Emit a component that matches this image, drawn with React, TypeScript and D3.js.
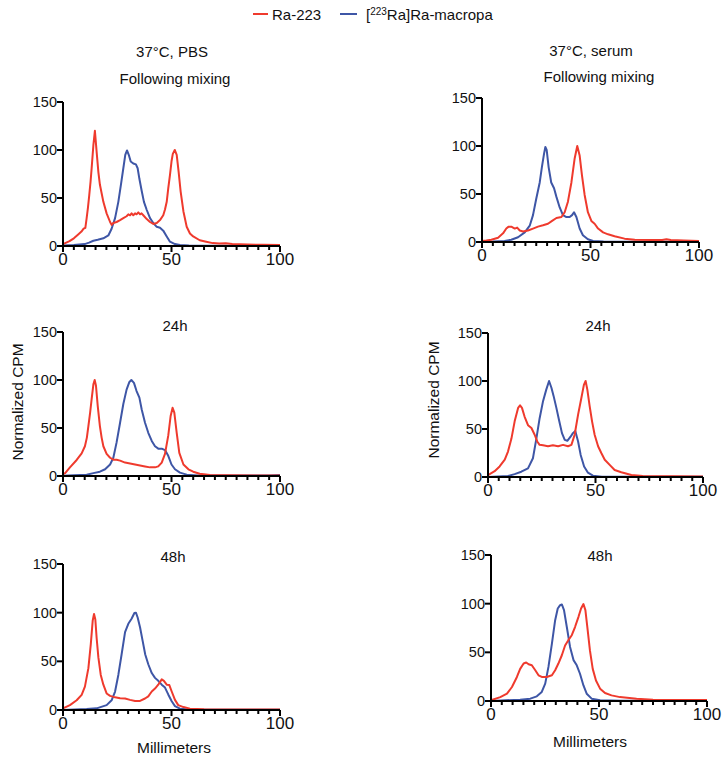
import React from "react";
import * as d3 from "d3";

// Radio-TLC traces: [distance (mm), normalized CPM]
const pbsMixRa: [number, number][] = [
  [0, 2], [1, 3], [3, 5], [5, 8], [7, 12], [8.5, 15], [9.5, 18], [10.3, 19], [10.9, 29], [11.5, 40],
  [12.1, 53], [12.7, 67], [13.2, 81], [14, 105], [14.7, 120], [15.5, 98], [16.3, 77], [17, 64], [17.8, 55],
  [18.6, 46], [20.1, 34], [21.7, 25], [22.4, 22], [23.2, 24], [24.7, 25], [26.3, 27], [27.8, 29], [29.3, 31],
  [30.1, 33], [30.9, 32], [31.6, 34], [32.4, 32], [33.2, 34], [33.9, 33], [34.7, 35], [35.5, 33], [36.2, 34],
  [37, 32], [38.6, 28], [40.1, 25], [41.6, 23], [43.2, 24], [44.7, 27], [46.2, 32], [47, 38], [47.8, 46],
  [48.5, 60], [49.3, 74], [50, 88], [50.6, 96], [51.5, 100], [52.4, 95], [53.3, 77], [54.2, 57], [55.5, 36],
  [57, 20], [58.5, 13], [60, 10], [63, 6], [66, 4.5], [69, 3], [72, 2.5], [75, 2.8], [78, 2], [85, 1.5],
  [92, 1.2], [100, 1],
];
const pbsMixMacropa: [number, number][] = [
  [0, 0.5], [5, 1], [10, 2], [12, 3.5], [14, 5.5], [16, 6.5], [18.6, 8], [20.9, 11], [22.4, 18], [24, 29],
  [25.5, 46], [26.7, 64], [27.8, 81], [28.7, 95], [29.5, 99.5], [30.3, 95], [31.2, 88], [32.4, 86], [33.6, 85],
  [34.4, 81], [35.2, 70], [36.3, 57], [37.3, 46], [38.6, 37.5], [40.1, 29], [41.6, 24], [43.2, 20], [44.7, 19],
  [46.2, 16], [47.8, 10], [49.3, 4.5], [51.6, 2], [53.9, 1], [58, 0.5], [100, 0.3],
];
const serumMixRa: [number, number][] = [
  [0, 1], [2, 1.5], [4.3, 2.4], [7.4, 4.5], [9.7, 9], [11.2, 14], [12.3, 16], [13.5, 16], [15.1, 14],
  [16.2, 15], [17.4, 12], [18.9, 11], [21.2, 12], [23.5, 14], [25.8, 16], [28.1, 17.4], [30.4, 19], [32.3, 22],
  [34.3, 25], [36.6, 26], [38.1, 31], [39.6, 42], [41.2, 62], [42.7, 87], [43.9, 100], [45, 90], [46.1, 69],
  [47.3, 49], [48.8, 31], [50.4, 22], [51.9, 19], [53.5, 14], [55.8, 10], [58.1, 8], [61.1, 6], [65.7, 3.5],
  [70.4, 2.4], [78, 2], [83, 2], [85, 2.8], [87, 2], [93, 1.5], [100, 1],
];
const serumMixMacropa: [number, number][] = [
  [0, 0.3], [5, 0.5], [10.4, 1], [13.5, 2.4], [16.6, 5], [19.7, 10], [22, 17], [23.5, 28], [25, 45],
  [26.6, 62], [27.6, 78], [28.6, 92], [29.2, 99], [29.8, 96], [30.7, 78], [31.9, 62], [33.2, 56], [34.3, 47],
  [35.8, 36], [37.3, 28], [38.9, 26], [40.4, 26], [41.5, 28], [42.4, 31], [43.5, 26], [45, 14], [46.5, 7],
  [48.8, 2.8], [51.2, 1], [56, 0.5], [100, 0.3],
];
const pbs24Ra: [number, number][] = [
  [0, 2], [1, 3], [3.2, 9], [6.3, 16.7], [8.6, 23.6], [10.1, 31], [11, 40], [11.7, 52], [12.5, 66], [13.2, 80],
  [14, 95.5], [14.6, 100], [15.2, 94], [16, 73], [17, 52], [17.8, 40], [18.6, 31], [20.1, 23], [21.7, 19],
  [23.2, 17], [24.7, 17], [26.3, 16], [28.6, 14], [30.9, 13], [33.2, 12], [35.5, 11], [37.8, 10], [40.1, 9],
  [42.4, 9], [43.9, 10], [45.5, 14], [47, 23], [48.5, 42], [49.6, 62.5], [50.5, 71], [51.3, 66], [52.4, 45],
  [53.6, 24], [55.5, 12], [57.8, 7], [60, 4.5], [63, 2.4], [67.7, 1], [75, 0.7], [100, 0.5],
];
const pbs24Macropa: [number, number][] = [
  [0, 0.3], [5, 0.8], [10.9, 1.4], [14, 3], [17, 4.5], [19.4, 7], [21.7, 12], [23.2, 19], [24.7, 35],
  [26.3, 55.5], [27.8, 75], [29.3, 90], [30.6, 98], [31.5, 100], [32.7, 97], [33.9, 88.5], [35.2, 81.6],
  [36.3, 69], [37.8, 55.5], [39.3, 45], [40.9, 36.5], [42.4, 31], [43.9, 28.5], [45.5, 28.5], [47, 27],
  [48.5, 21], [50, 12], [51.6, 7], [53.9, 3.5], [57, 1.4], [62, 0.5], [95, 0.5], [100, 1],
];
const serum24Ra: [number, number][] = [
  [0, 2], [3.1, 6], [5.4, 11], [7.8, 18], [9.3, 26.5], [10.9, 40], [12.4, 58], [14, 72], [14.9, 74.6],
  [15.8, 72], [17, 63], [18.6, 54], [20.2, 51], [21.7, 44], [22.9, 37], [24, 33.5], [25.6, 33], [27.9, 32],
  [30.2, 33], [32.6, 32], [34.9, 33.5], [37.2, 32], [38.8, 33.5], [40.3, 44], [41.9, 65], [43.4, 82],
  [44.6, 96], [45.4, 100], [46.2, 91], [47.3, 73.6], [48.4, 58], [49.6, 44], [51.2, 32], [52.7, 25],
  [54.3, 18], [56.6, 12.6], [58.9, 7.3], [62, 5], [66.7, 2], [72, 1], [100, 0.5],
];
const serum24Macropa: [number, number][] = [
  [0, 0], [9.3, 1], [12.4, 3], [15.5, 5.5], [18.6, 9], [20.9, 19.5], [22.5, 40], [24, 61], [25.6, 79],
  [27.1, 91], [28.4, 100], [29.5, 93], [30.5, 84.5], [31.8, 72], [33, 59.6], [34.4, 45.7], [35.7, 38.7],
  [36.9, 37.7], [38.4, 42], [39.5, 45.7], [40.6, 48], [41.9, 37], [43.1, 23], [44.7, 11], [46.5, 4.5],
  [48.8, 1.4], [53, 0.3], [100, 0.3],
];
const pbs48Ra: [number, number][] = [
  [0, 1.7], [3.2, 5], [6.3, 10], [8.6, 15.6], [10.1, 24], [11.7, 43], [12.8, 67.5], [13.7, 92], [14.3, 98.6],
  [14.9, 93], [15.5, 74], [16.3, 54], [17.4, 36], [18.6, 26], [20.1, 17], [21.7, 14.5], [24, 13], [26.3, 12],
  [28.6, 11.8], [30.9, 10.4], [33.2, 9.3], [35.5, 9.3], [37.8, 11.8], [39.3, 14], [40.9, 19], [42.4, 22],
  [43.9, 26], [45.5, 31.5], [46.5, 30], [47.8, 26], [49, 25.6], [50.1, 19], [51.6, 10.4], [53.1, 5],
  [55.5, 3], [58.5, 1.4], [65, 0.7], [100, 0.5],
];
const pbs48Macropa: [number, number][] = [
  [0, 0], [10.9, 1], [15.5, 1.7], [20.1, 5], [22.4, 10], [24, 19], [25.5, 36], [27, 57], [28.6, 80],
  [30.1, 88.6], [31.6, 93.8], [32.9, 99.6], [33.6, 100], [34.4, 95], [35.5, 85], [36.7, 71], [37.9, 57],
  [39.3, 47], [40.9, 38], [42.4, 33], [43.9, 30], [45.5, 26], [47, 23], [48.5, 16], [50.1, 9], [51.6, 4],
  [53.9, 1.4], [58, 0.5], [100, 0.3],
];
const serum48Ra: [number, number][] = [
  [0, 0.7], [4.3, 4], [7.4, 7.5], [9.7, 14.4], [12, 24.7], [13.5, 33], [15.1, 38.5], [16.3, 39.5],
  [17.4, 37.8], [18.9, 36.7], [20.5, 31.6], [22, 26.4], [23.5, 24.7], [25.8, 24.7], [28.2, 26.4],
  [29.7, 31.6], [31.2, 38.5], [32.8, 47], [34.3, 57], [35.8, 62.5], [37.4, 67.6], [38.9, 76], [40.5, 86.5],
  [41.7, 95], [42.8, 99.6], [43.7, 93.4], [44.6, 76], [45.8, 52], [47.1, 33], [48.6, 21], [50.5, 12.7],
  [52.8, 8.2], [55.8, 5.8], [59.7, 4], [67.4, 2.4], [75, 1.4], [100, 1],
];
const serum48Macropa: [number, number][] = [
  [0, 0], [13.5, 1.4], [18.2, 2.4], [21.2, 4.8], [23.5, 9.3], [25.1, 17.8], [26.6, 35], [28.2, 59],
  [29.7, 83], [30.9, 95], [32, 98.5], [32.8, 99.2], [33.8, 93.4], [35.1, 76], [36.6, 55.6], [38.2, 42],
  [39.7, 36.7], [41.2, 28], [42.8, 16], [44.3, 7.5], [46.6, 2.4], [50.5, 0.7], [60, 0.3], [100, 0.3],
];

const xMajorTicks = [0, 50, 100];
const xMinorTicks = d3.range(0, 101, 5);
const yTicks = [0, 50, 100, 150];

const RED = "#ef3a2d";
const BLUE = "#3e56a6";
const FONT = "'Liberation Sans', Arial, Helvetica, sans-serif";

type Panel = {
  left: number; right: number; bottom: number; top: number;
  titles: string[]; titleX: number[]; titleY: number[];
  ra: [number, number][]; macropa: [number, number][];
};

const panels: Panel[] = [
  { left: 63, right: 280, bottom: 246, top: 102, titles: ["37°C, PBS", "Following mixing"], titleX: [172, 175], titleY: [57, 84], ra: pbsMixRa, macropa: pbsMixMacropa },
  { left: 482, right: 699, bottom: 242, top: 98, titles: ["37°C, serum", "Following mixing"], titleX: [591, 599], titleY: [56, 82], ra: serumMixRa, macropa: serumMixMacropa },
  { left: 63, right: 280, bottom: 476, top: 332, titles: ["24h"], titleX: [175], titleY: [331], ra: pbs24Ra, macropa: pbs24Macropa },
  { left: 488, right: 703, bottom: 477, top: 333, titles: ["24h"], titleX: [598], titleY: [331], ra: serum24Ra, macropa: serum24Macropa },
  { left: 63, right: 280, bottom: 710, top: 564, titles: ["48h"], titleX: [173], titleY: [562], ra: pbs48Ra, macropa: pbs48Macropa },
  { left: 491, right: 707, bottom: 701, top: 555, titles: ["48h"], titleX: [600], titleY: [561], ra: serum48Ra, macropa: serum48Macropa },
];

function TracePanel({ p }: { p: Panel }) {
  const x = d3.scaleLinear().domain([0, 100]).range([p.left, p.right]);
  const y = d3.scaleLinear().domain([0, 150]).range([p.bottom, p.top]);
  const line = d3.line<[number, number]>().x((d) => x(d[0])).y((d) => y(d[1]));
  return (
    <g>
      {p.titles.map((t, i) => (
        <text key={t} x={p.titleX[i]} y={p.titleY[i]} textAnchor="middle" fontSize={15} fontFamily={FONT} fill="#111">
          {t}
        </text>
      ))}
      <path d={line(p.macropa) ?? ""} fill="none" stroke={BLUE} strokeWidth={2} strokeLinejoin="round" />
      <path d={line(p.ra) ?? ""} fill="none" stroke={RED} strokeWidth={2} strokeLinejoin="round" />
      {/* y axis */}
      <line x1={p.left} x2={p.left} y1={y(150)} y2={y(0)} stroke="#000" strokeWidth={2} />
      {yTicks.map((t) => (
        <g key={`y${t}`}>
          <line x1={p.left - 6} x2={p.left} y1={y(t)} y2={y(t)} stroke="#000" strokeWidth={2} />
          <text x={p.left - 6} y={y(t) + 5} textAnchor="end" fontSize={14.5} fontFamily={FONT} fill="#111">
            {t}
          </text>
        </g>
      ))}
      {/* x axis */}
      <line x1={x(0) - 1} x2={x(100)} y1={p.bottom} y2={p.bottom} stroke="#000" strokeWidth={2} />
      {xMinorTicks.map((t) => (
        <line key={`m${t}`} x1={x(t)} x2={x(t)} y1={p.bottom} y2={p.bottom + (xMajorTicks.includes(t) ? 6 : 4)} stroke="#000" strokeWidth={2} />
      ))}
      {xMajorTicks.map((t) => (
        <text key={`x${t}`} x={x(t)} y={p.bottom + 19} textAnchor="middle" fontSize={17} fontFamily={FONT} fill="#111">
          {t}
        </text>
      ))}
    </g>
  );
}

export default function App() {
  return (
    <svg width={722} height={760} style={{ position: "absolute", left: 0, top: 0, background: "#fff" }}>
      <rect x={0} y={0} width={722} height={760} fill="#fff" />
      {/* legend */}
      <line x1={253} x2={268} y1={14} y2={14} stroke={RED} strokeWidth={2} />
      <text x={272} y={20} fontSize={15} fontFamily={FONT} fill="#111">Ra-223</text>
      <line x1={340} x2={357} y1={14} y2={14} stroke={BLUE} strokeWidth={2} />
      <text x={366} y={20} fontSize={15} fontFamily={FONT} fill="#111">
        [<tspan fontSize={10} dy={-5}>223</tspan><tspan dy={5}>Ra]Ra-macropa</tspan>
      </text>

      {panels.map((p, i) => <TracePanel key={i} p={p} />)}

      {/* shared axis titles */}
      <text transform="translate(23,402) rotate(-90)" textAnchor="middle" fontSize={15.5} fontFamily={FONT} fill="#111">Normalized CPM</text>
      <text transform="translate(439,400) rotate(-90)" textAnchor="middle" fontSize={15.5} fontFamily={FONT} fill="#111">Normalized CPM</text>
      <text x={174} y={753} textAnchor="middle" fontSize={15.5} fontFamily={FONT} fill="#111">Millimeters</text>
      <text x={590} y={747} textAnchor="middle" fontSize={15.5} fontFamily={FONT} fill="#111">Millimeters</text>
    </svg>
  );
}
